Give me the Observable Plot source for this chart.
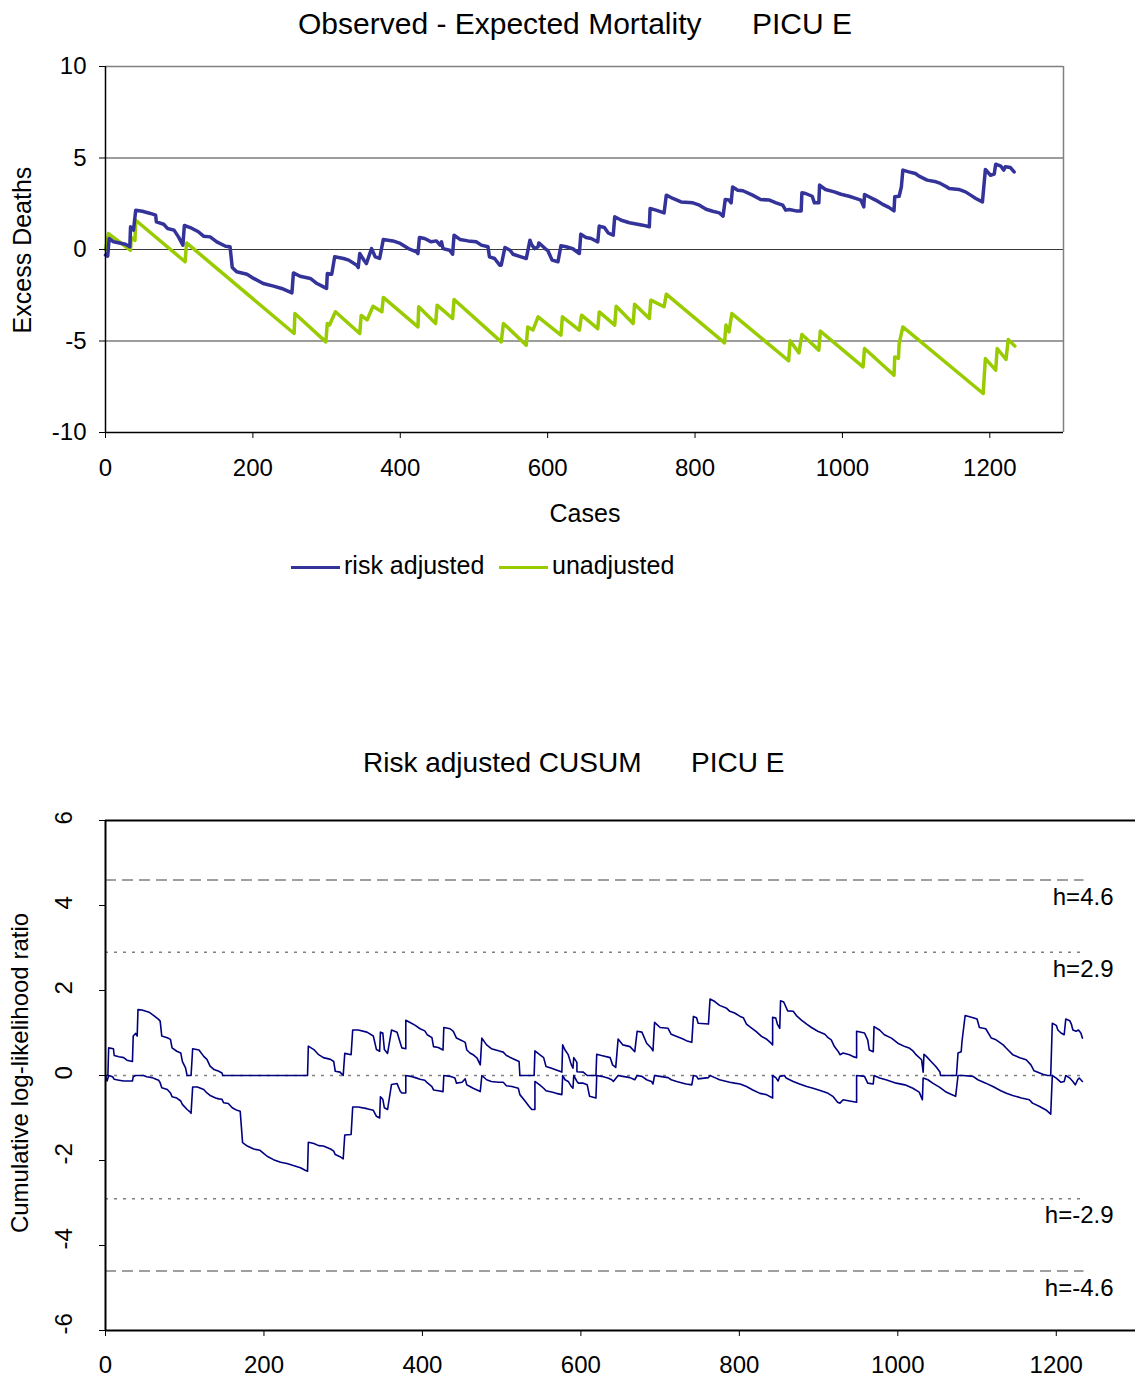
<!DOCTYPE html>
<html><head><meta charset="utf-8">
<script src="https://cdn.jsdelivr.net/npm/d3@7"></script>
<script src="https://cdn.jsdelivr.net/npm/@observablehq/plot@0.6"></script>
<style>
body{margin:0;background:#fff;}
#page{position:relative;width:1135px;height:1378px;overflow:hidden;font-family:"Liberation Sans",Arial,sans-serif;color:#000;background:#fff;}
.t{position:absolute;white-space:nowrap;line-height:1;}
.c{transform:translate(-50%,-50%);}
.r{transform:translate(-50%,-50%) rotate(-90deg);}
svg{position:absolute;left:0;}
</style></head><body><div id="page"></div>
<script>
// ---- data: top chart (case number, excess deaths) ----
const riskAdjusted = [[0,-0.3],[3,-0.36],[5,0.6],[11,0.42],[27,0.29],[33,0.15],[34,1.24],[38,1.06],[41,2.15],[50,2.09],[61,1.97],[68,1.88],[69,1.51],[79,1.38],[84,1.15],[93,1.06],[99,0.69],[105,0.24],[107,1.31],[115,1.2],[126,0.97],[133,0.73],[142,0.69],[151,0.42],[163,0.18],[169,0.15],[172,-0.98],[178,-1.22],[192,-1.35],[201,-1.58],[214,-1.86],[228,-2.0],[239,-2.13],[253,-2.37],[255,-1.28],[264,-1.46],[278,-1.58],[287,-1.86],[294,-2.0],[300,-2.13],[301,-1.31],[307,-1.35],[311,-0.4],[323,-0.49],[330,-0.58],[341,-0.86],[343,-0.98],[345,-0.22],[351,-0.6],[354,-0.77],[361,0.05],[366,-0.4],[372,-0.49],[377,0.55],[390,0.47],[400,0.33],[411,0.05],[422,-0.13],[424,-0.22],[426,0.66],[433,0.6],[442,0.42],[449,0.47],[454,0.24],[456,0.42],[458,0.05],[467,-0.04],[471,-0.26],[473,0.78],[481,0.55],[492,0.47],[503,0.42],[510,0.24],[519,0.15],[521,-0.4],[528,-0.49],[535,-0.86],[537,-0.86],[542,0.11],[549,-0.04],[553,-0.26],[567,-0.44],[571,-0.49],[576,0.51],[578,0.29],[582,0.05],[587,0.15],[588,0.36],[594,0.15],[598,0],[600,-0.04],[606,-0.58],[614,-0.67],[618,0.2],[625,0.15],[634,0.04],[643,-0.22],[645,0.84],[652,0.66],[659,0.6],[668,0.42],[670,1.28],[677,1.2],[682,0.91],[689,0.78],[691,1.79],[700,1.6],[711,1.46],[722,1.38],[729,1.33],[738,1.24],[739,2.24],[747,2.15],[758,2.0],[761,2.97],[770,2.79],[781,2.6],[797,2.55],[806,2.42],[815,2.2],[824,2.09],[833,2.0],[838,1.82],[841,2.73],[846,2.7],[849,2.55],[851,3.42],[858,3.24],[865,3.21],[878,2.97],[889,2.73],[901,2.7],[910,2.55],[919,2.42],[923,2.15],[928,2.19],[937,2.11],[944,2.11],[945,3.1],[950,3.06],[959,2.91],[962,2.55],[968,2.55],[969,3.52],[977,3.28],[989,3.15],[998,3.02],[1009,2.91],[1018,2.79],[1025,2.7],[1029,2.33],[1030,3.01],[1036,2.88],[1045,2.7],[1054,2.48],[1063,2.3],[1070,2.11],[1071,2.88],[1077,2.91],[1080,3.42],[1082,4.34],[1090,4.24],[1099,4.15],[1104,4.01],[1115,3.79],[1127,3.7],[1133,3.61],[1140,3.46],[1145,3.33],[1158,3.28],[1167,3.15],[1174,2.97],[1181,2.79],[1190,2.6],[1194,4.37],[1201,4.06],[1206,4.12],[1208,4.66],[1215,4.55],[1219,4.34],[1221,4.52],[1228,4.48],[1233,4.24]];

const unadjusted = [[0,0],[4,0.87],[34,-0.04],[35,0.66],[40,0.5],[41,1.6],[108,-0.67],[110,0.36],[256,-4.59],[257,-3.5],[299,-5.05],[301,-4.04],[304,-4.13],[312,-3.4],[345,-4.59],[347,-3.6],[355,-3.85],[363,-3.1],[375,-3.4],[377,-2.62],[424,-4.23],[425,-3.13],[448,-4.04],[450,-3.04],[471,-3.77],[473,-2.73],[537,-5.05],[540,-4.04],[571,-5.23],[573,-4.23],[580,-4.4],[587,-3.68],[618,-4.68],[620,-3.68],[643,-4.41],[646,-3.59],[668,-4.32],[670,-3.41],[691,-4.13],[693,-3.1],[716,-4.04],[718,-2.99],[738,-3.77],[740,-2.77],[758,-3.13],[761,-2.44],[840,-5.1],[842,-4.13],[846,-4.5],[850,-3.5],[927,-6.08],[929,-4.99],[941,-5.65],[945,-4.64],[968,-5.5],[970,-4.46],[1028,-6.41],[1030,-5.41],[1070,-6.87],[1071,-5.87],[1076,-5.95],[1077,-5.14],[1082,-4.23],[1191,-7.87],[1194,-5.96],[1208,-6.59],[1210,-5.41],[1222,-6.01],[1225,-4.92],[1234,-5.28]];

const topXTicks = [0,200,400,600,800,1000,1200];
const topYTicks = [-10,-5,0,5,10];
const topGrid = [-5,0,5];

// ---- data: bottom chart (case number, cumulative log-likelihood ratio) ----
const cusumUpper = [[0,0],[3,0],[4,0.65],[10,0.63],[11,0.47],[17,0.44],[23,0.42],[27,0.36],[34,0.33],[35,0.93],[38,0.99],[40,0.93],[41,1.55],[46,1.54],[55,1.49],[61,1.41],[67,1.32],[69,1.28],[71,0.93],[78,0.89],[82,0.85],[84,0.65],[90,0.57],[95,0.53],[97,0.33],[101,0.18],[103,0],[108,0],[110,0.63],[118,0.6],[124,0.45],[128,0.38],[132,0.22],[137,0.14],[143,0.1],[147,0.06],[148,0],[255,0],[256,0.69],[263,0.61],[269,0.49],[275,0.42],[284,0.38],[288,0.33],[290,0.1],[296,0.08],[300,0],[302,0.52],[310,0.49],[312,1.07],[319,1.07],[330,1.02],[338,0.93],[342,0.61],[346,0.57],[347,1.02],[350,1.0],[352,0.61],[356,0.52],[361,1.07],[368,1.02],[372,0.77],[374,0.65],[379,0.63],[379,1.3],[385,1.24],[391,1.18],[397,1.1],[403,1.05],[406,0.96],[412,0.89],[414,0.68],[420,0.66],[426,0.6],[427,1.13],[435,1.1],[439,1.04],[443,0.88],[450,0.82],[454,0.78],[456,0.6],[460,0.53],[464,0.49],[469,0.41],[473,0.25],[475,0.88],[481,0.72],[487,0.63],[496,0.58],[502,0.55],[506,0.47],[515,0.39],[522,0.33],[523,0],[541,0],[542,0.58],[548,0.49],[553,0.42],[556,0.21],[563,0.17],[569,0.13],[576,0.08],[577,0.72],[580,0.6],[584,0.49],[588,0.25],[590,0.17],[591,0.42],[595,0.31],[595,0.09],[603,0.08],[608,0],[619,0],[620,0.5],[626,0.47],[637,0.42],[640,0.25],[644,0.19],[647,0.86],[653,0.72],[662,0.68],[668,0.56],[671,1.04],[677,1.02],[683,0.76],[689,0.64],[691,0.58],[693,1.25],[700,1.13],[710,1.11],[714,0.97],[721,0.92],[729,0.86],[733,0.82],[740,0.78],[742,1.39],[746,1.36],[748,1.23],[761,1.21],[763,1.8],[769,1.74],[775,1.65],[784,1.58],[788,1.51],[794,1.47],[801,1.39],[805,1.36],[809,1.21],[813,1.15],[821,1.04],[828,0.92],[834,0.86],[840,0.76],[842,0.72],[842,1.37],[846,1.35],[848,1.21],[851,1.11],[852,1.76],[856,1.73],[861,1.52],[868,1.51],[872,1.41],[878,1.31],[885,1.21],[891,1.13],[899,1.04],[908,0.97],[912,0.89],[916,0.84],[920,0.68],[925,0.56],[927,0.49],[931,0.53],[939,0.49],[943,0.45],[948,0.42],[948,1.04],[958,1.0],[962,0.84],[964,0.6],[969,0.56],[970,1.15],[977,1.07],[983,0.96],[992,0.88],[1000,0.76],[1009,0.68],[1015,0.64],[1019,0.58],[1023,0.49],[1030,0.37],[1032,0.08],[1033,0.5],[1036,0.45],[1042,0.33],[1048,0.21],[1053,0.09],[1054,0],[1074,0],[1076,0.53],[1080,0.56],[1081,0.8],[1085,1.41],[1095,1.36],[1100,1.33],[1103,1.13],[1111,1.1],[1118,0.88],[1124,0.84],[1133,0.72],[1137,0.64],[1145,0.49],[1154,0.42],[1162,0.37],[1168,0.25],[1172,0.11],[1183,0.03],[1189,0],[1193,0],[1195,1.23],[1200,1.18],[1202,1.07],[1206,1.0],[1210,0.96],[1212,1.33],[1217,1.29],[1219,1.21],[1221,1.07],[1225,1.04],[1228,1.07],[1231,1.0],[1233,0.88]];

const cusumLower = [[0,0],[2,-0.13],[4,0],[9,-0.03],[11,-0.09],[17,-0.11],[23,-0.13],[34,-0.13],[35,-0.03],[38,0],[48,0],[52,-0.03],[59,-0.05],[63,-0.08],[67,-0.11],[69,-0.17],[71,-0.29],[78,-0.33],[82,-0.41],[84,-0.5],[90,-0.53],[95,-0.6],[97,-0.68],[103,-0.8],[107,-0.86],[108,-0.89],[110,-0.27],[116,-0.27],[124,-0.33],[128,-0.41],[132,-0.47],[139,-0.53],[143,-0.55],[147,-0.56],[149,-0.64],[155,-0.66],[160,-0.76],[166,-0.82],[170,-0.84],[173,-1.58],[179,-1.66],[187,-1.73],[195,-1.76],[200,-1.84],[204,-1.9],[212,-1.98],[221,-2.04],[229,-2.07],[237,-2.12],[246,-2.17],[252,-2.23],[255,-2.25],[256,-1.57],[263,-1.6],[269,-1.65],[275,-1.66],[284,-1.73],[288,-1.78],[290,-1.86],[296,-1.91],[300,-1.96],[302,-1.4],[310,-1.39],[312,-0.74],[319,-0.74],[330,-0.78],[338,-0.82],[342,-0.96],[346,-1.0],[347,-0.5],[350,-0.56],[352,-0.76],[356,-0.8],[361,-0.21],[368,-0.19],[372,-0.37],[374,-0.41],[379,-0.41],[379,0],[385,-0.02],[391,-0.05],[397,-0.09],[403,-0.11],[406,-0.17],[412,-0.26],[414,-0.34],[420,-0.36],[426,-0.38],[427,0],[435,-0.02],[441,-0.06],[443,-0.18],[450,-0.16],[454,-0.08],[456,-0.22],[460,-0.26],[464,-0.3],[471,-0.36],[473,-0.38],[475,0],[481,-0.1],[487,-0.14],[496,-0.16],[502,-0.16],[506,-0.24],[513,-0.26],[521,-0.3],[523,-0.45],[530,-0.61],[534,-0.71],[538,-0.8],[542,-0.8],[542,-0.14],[548,-0.22],[553,-0.3],[556,-0.36],[563,-0.39],[569,-0.42],[576,-0.45],[577,0],[580,-0.1],[584,-0.14],[588,-0.26],[590,-0.3],[591,0],[595,-0.14],[597,-0.18],[603,-0.18],[608,-0.22],[611,-0.49],[619,-0.53],[620,0],[626,-0.02],[634,-0.06],[639,-0.1],[641,-0.14],[647,0],[653,-0.02],[662,-0.05],[668,-0.1],[671,0],[677,-0.02],[683,-0.1],[689,-0.14],[691,-0.2],[693,0],[700,-0.02],[710,-0.05],[714,-0.1],[721,-0.14],[729,-0.18],[733,-0.2],[740,-0.22],[742,0],[746,-0.02],[748,-0.08],[761,-0.05],[763,0],[769,-0.05],[775,-0.1],[788,-0.16],[794,-0.18],[801,-0.2],[809,-0.26],[817,-0.34],[826,-0.42],[834,-0.45],[842,-0.53],[842,0],[846,-0.05],[849,-0.13],[851,-0.02],[857,0],[859,-0.06],[868,-0.14],[876,-0.2],[885,-0.26],[893,-0.3],[903,-0.36],[912,-0.42],[918,-0.49],[924,-0.63],[927,-0.65],[931,-0.57],[939,-0.6],[948,-0.63],[948,0],[958,-0.02],[962,-0.18],[969,-0.2],[970,0],[977,-0.06],[985,-0.1],[998,-0.18],[1009,-0.22],[1019,-0.3],[1027,-0.39],[1031,-0.57],[1032,-0.06],[1038,-0.1],[1044,-0.18],[1053,-0.28],[1061,-0.39],[1067,-0.44],[1073,-0.49],[1076,0],[1082,0],[1095,-0.02],[1101,-0.1],[1111,-0.18],[1120,-0.26],[1130,-0.36],[1137,-0.42],[1145,-0.47],[1156,-0.53],[1166,-0.57],[1170,-0.65],[1179,-0.73],[1187,-0.81],[1193,-0.91],[1195,0],[1200,-0.06],[1206,-0.16],[1210,-0.14],[1212,0],[1217,-0.06],[1221,-0.14],[1224,-0.22],[1227,-0.1],[1229,-0.06],[1233,-0.14]];

const bottomXTicks = [0,200,400,600,800,1000,1200];
const bottomYTicks = [-6,-4,-2,0,2,4,6];
const hDashed = [4.6,-4.6];
const hDotted = [2.9,0,-2.9];
const hLabelValues = [4.6,2.9,-2.9,-4.6];
const hLabelText = ["h=4.6","h=2.9","h=-2.9","h=-4.6"];
const hLineEnd = 1235;

const FONT = '"Liberation Sans", Arial, sans-serif';
const plain = d => String(d);
const page = document.getElementById("page");
function addText(txt, x, y, size, cls) {
  const d = document.createElement("div");
  d.className = "t " + (cls || "");
  d.textContent = txt;
  d.style.left = x + "px"; d.style.top = y + "px"; d.style.fontSize = size + "px";
  page.appendChild(d);
  return d;
}

// ---- top chart ----
const topPlot = Plot.plot({
  width: 1135, height: 540,
  marginTop: 66, marginBottom: 108, marginLeft: 105, marginRight: 72,
  x: {domain: [0, 1300]},
  y: {domain: [-10, 10]},
  style: {fontFamily: FONT, fontSize: "24px", color: "#000", background: "transparent", overflow: "visible"},
  marks: [
    Plot.ruleY(topGrid, {stroke: "#3a3a3a", strokeWidth: 1}),
    Plot.ruleY([10], {stroke: "#808080", strokeWidth: 1.5}),
    Plot.ruleX([1300], {stroke: "#808080", strokeWidth: 1.5}),
    Plot.line(unadjusted, {x: d => d[0], y: d => d[1], stroke: "#99cc00", strokeWidth: 3.5, strokeLinejoin: "round"}),
    Plot.line(riskAdjusted, {x: d => d[0], y: d => d[1], stroke: "#333399", strokeWidth: 3.5, strokeLinejoin: "round"}),
    Plot.ruleX([0], {stroke: "#000", strokeWidth: 1.5}),
    Plot.ruleY([-10], {stroke: "#000", strokeWidth: 1.5}),
    Plot.axisX(topXTicks, {tickSize: 6, tickPadding: 20, label: null, stroke: "#000", tickFormat: plain}),
    Plot.axisY(topYTicks, {tickSize: 6, tickPadding: 13, label: null, stroke: "#000", tickFormat: plain})
  ]
});
topPlot.style.top = "0px";
page.appendChild(topPlot);

// ---- bottom chart ----
const bottomPlot = Plot.plot({
  width: 1135, height: 578,
  marginTop: 20, marginBottom: 48, marginLeft: 105, marginRight: 0,
  x: {domain: [0, 1300]},
  y: {domain: [-6, 6]},
  style: {fontFamily: FONT, fontSize: "24px", color: "#000", background: "transparent", overflow: "visible"},
  marks: [
    Plot.ruleY(hDashed, {x1: 0, x2: hLineEnd, stroke: "#808080", strokeWidth: 1.5, strokeDasharray: "11,6"}),
    Plot.ruleY(hDotted, {x1: 0, x2: hLineEnd, stroke: "#808080", strokeWidth: 1.5, strokeDasharray: "3,6"}),
    Plot.text(hLabelValues, {y: d => d, text: (d, i) => hLabelText[i], frameAnchor: "right", textAnchor: "end", dx: -22, dy: 17, fontSize: 24, fill: "#000"}),
    Plot.line(cusumUpper, {x: d => d[0], y: d => d[1], stroke: "#000080", strokeWidth: 1.6}),
    Plot.line(cusumLower, {x: d => d[0], y: d => d[1], stroke: "#000080", strokeWidth: 1.6}),
    Plot.ruleY([6], {stroke: "#000", strokeWidth: 2}),
    Plot.ruleY([-6], {stroke: "#000", strokeWidth: 2}),
    Plot.ruleX([0], {stroke: "#000", strokeWidth: 2}),
    Plot.axisX(bottomXTicks, {tickSize: 6, tickPadding: 19, label: null, stroke: "#000", tickFormat: plain}),
    Plot.axisY(bottomYTicks, {tickSize: 6, tickFormat: () => "", label: null, stroke: "#000"}),
    Plot.text(bottomYTicks, {y: d => d, text: plain, frameAnchor: "left", dx: -41, dy: 4, rotate: -90, fontSize: 24, fill: "#000"})
  ]
});
bottomPlot.style.top = "800px";
page.appendChild(bottomPlot);

// ---- titles, axis labels, legend ----
addText("Observed - Expected Mortality", 298, 9, 30);
addText("PICU E", 752, 9, 30);
addText("Cases", 585, 513, 25, "c");
addText("Excess Deaths", 22, 250, 25, "r");

function legendItem(x, color, label) {
  const ln = document.createElement("div");
  ln.style.cssText = `position:absolute;left:${x}px;top:566px;width:49px;height:3px;background:${color};`;
  page.appendChild(ln);
  addText(label, x + 53, 553, 25);
}
legendItem(291, "#333399", "risk adjusted");
legendItem(499, "#99cc00", "unadjusted");

addText("Risk adjusted CUSUM", 363, 749, 28);
addText("PICU E", 691, 749, 28);
addText("Cumulative log-likelihood ratio", 20, 1073, 24, "r");
</script>
</body></html>
